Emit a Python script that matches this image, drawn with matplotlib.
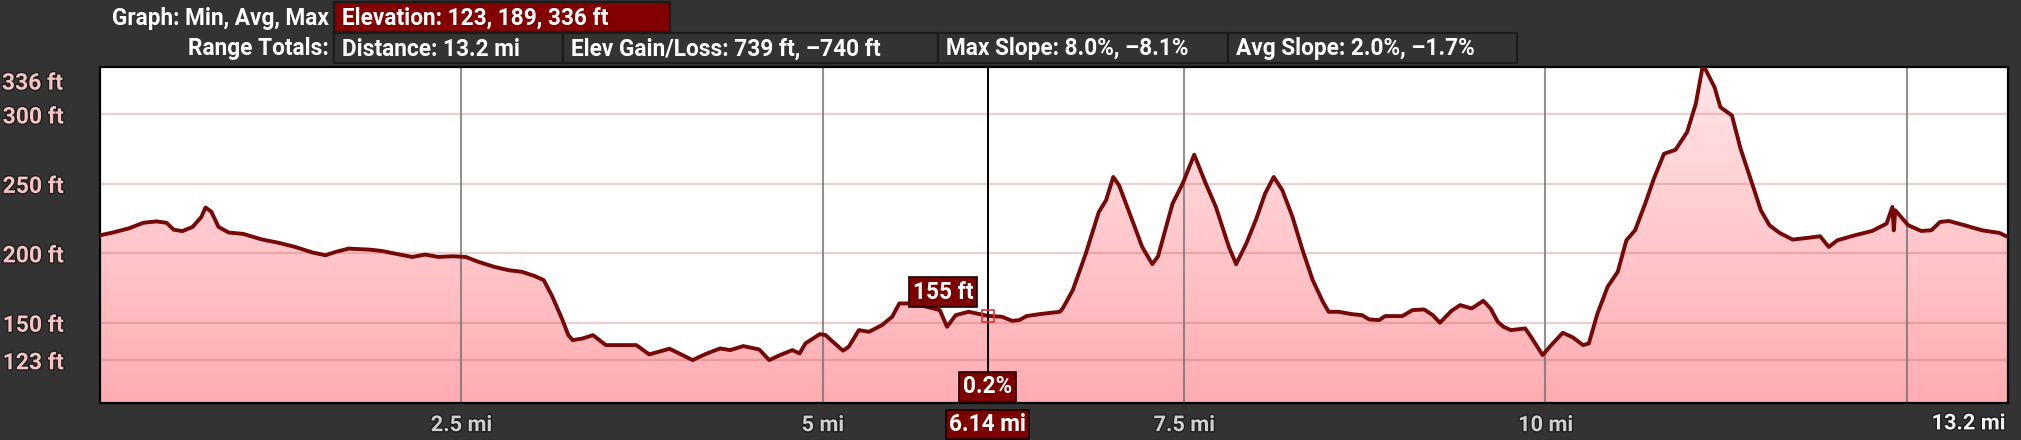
#!/usr/bin/env python3
"""Elevation profile panel with header stats, cursor readout and gradient fill."""

import numpy as np
import matplotlib
matplotlib.use("Agg")
import matplotlib.pyplot as plt
import matplotlib.patheffects as pe
from matplotlib.colors import LinearSegmentedColormap
from matplotlib.patches import Rectangle

W, H = 2021, 440

# Data
DIST_MI = [
    0.00, 0.09, 0.20, 0.30, 0.39, 0.46, 0.51, 0.57, 0.64, 0.70, 0.73, 0.77,
    0.82, 0.89, 0.99, 1.12, 1.24, 1.35, 1.47, 1.56, 1.63, 1.72, 1.86, 1.95,
    2.04, 2.16, 2.25, 2.34, 2.44, 2.53, 2.62, 2.73, 2.83, 2.92, 3.01, 3.07,
    3.13, 3.20, 3.24, 3.27, 3.34, 3.41, 3.50, 3.71, 3.80, 3.94, 4.03, 4.10,
    4.19, 4.29, 4.36, 4.45, 4.56, 4.63, 4.70, 4.79, 4.84, 4.88, 4.98, 5.02,
    5.07, 5.14, 5.18, 5.25, 5.32, 5.41, 5.48, 5.53, 5.60, 5.70, 5.81, 5.86,
    5.92, 6.01, 6.14, 6.24, 6.31, 6.36, 6.41, 6.50, 6.64, 6.66, 6.73, 6.82,
    6.91, 6.96, 7.01, 7.05, 7.15, 7.21, 7.28, 7.32, 7.42, 7.49, 7.57, 7.65,
    7.72, 7.81, 7.86, 7.93, 8.00, 8.06, 8.12, 8.18, 8.25, 8.32, 8.39, 8.46,
    8.50, 8.57, 8.66, 8.73, 8.78, 8.85, 8.89, 9.01, 9.08, 9.16, 9.22, 9.27,
    9.35, 9.41, 9.49, 9.57, 9.62, 9.67, 9.71, 9.76, 9.86, 9.90, 9.98, 10.04,
    10.12, 10.19, 10.26, 10.30, 10.36, 10.43, 10.50, 10.56, 10.62, 10.69,
    10.75, 10.82, 10.90, 10.98, 11.04, 11.09, 11.17, 11.21, 11.29, 11.35,
    11.43, 11.49, 11.55, 11.62, 11.71, 11.81, 11.90, 11.96, 12.02, 12.14,
    12.26, 12.36, 12.40, 12.41, 12.42, 12.51, 12.60, 12.67, 12.73, 12.79,
    12.90, 13.02, 13.14, 13.20,
]
ELEV_FT = [
    213, 215, 218, 222, 223, 222, 217, 216, 219, 226, 233, 230,
    219, 215, 214, 210, 207.5, 204.6, 200.6, 198.6, 201, 203.4, 202.7, 201.7,
    199.8, 197.4, 199.1, 197.4, 197.9, 197.4, 193.8, 190.2, 187.8, 186.7, 183.5, 180.7,
    168.7, 151.9, 141.1, 137.5, 138.7, 141.1, 133.9, 133.9, 127.2, 131.3, 126.7, 123.1,
    127.5, 131.5, 130.3, 133.2, 130.8, 123.1, 126.5, 130.3, 127.9, 135.1, 141.8, 141.1,
    136.3, 129.9, 132.7, 144.7, 143.5, 148.3, 154.3, 163.9, 163.9, 162, 159.1, 147.1,
    155.5, 157.9, 155, 154.3, 151.4, 151.9, 154.8, 156.2, 157.9, 160.3, 173.5, 199.8,
    229.8, 238.2, 255, 249, 221.4, 204.6, 192.2, 197.9, 235.8, 250.2, 271, 250.2,
    233.4, 204.6, 192.2, 207, 225, 243, 255, 245.4, 226.2, 202.2, 180.7, 165.1,
    157.9, 157.9, 156.2, 155.5, 152.4, 151.9, 154.8, 154.8, 159.1, 159.6, 155.5, 150,
    158.6, 162.7, 160.3, 165.8, 160.3, 150.7, 147.1, 144.7, 145.9, 139.9, 126.7, 133.9,
    142.8, 139.4, 133.9, 135.1, 156.7, 175.9, 186.7, 209.4, 216.6, 235.8,
    253.8, 271.7, 274.6, 287.3, 307.7, 336, 319.6, 305.3, 299.3, 275.3,
    250.2, 231, 220.2, 214.7, 209.9, 211.1, 212.3, 204.6, 209.4, 213,
    216.1, 221.4, 233.4, 216.6, 231, 220.2, 216.1, 216.6, 222.6, 223.3,
    220.2, 216.6, 214.7, 211.8,
]

Y_TICKS = [123, 150, 200, 250, 300]
X_TICKS = [2.5, 5, 7.5, 10, 12.5]
X_LABELS = ["2.5 mi", "5 mi", "7.5 mi", "10 mi", ""]
MAX_FT = 336
TOTAL_MI = 13.2
CURSOR_MI = 6.14
CURSOR_FT = 155
CURSOR_SLOPE = "0.2%"

ROW1_TITLE = "Graph: Min, Avg, Max"
ROW1_BOXES = ["Elevation: 123, 189, 336 ft"]
ROW2_TITLE = "Range Totals:"
ROW2_BOXES = ["Distance: 13.2 mi", "Elev Gain/Loss: 739 ft, –740 ft",
              "Max Slope: 8.0%, –8.1%", "Avg Slope: 2.0%, –1.7%"]

BG = "#333333"
DARK_RED = "#7d0000"
LINE = "#760808"
FS = 16.3

plt.rcParams["font.family"] = ["Roboto", "DejaVu Sans"]


def fx(px):
    return px / W


def fy(py):
    return 1 - py / H


fig = plt.figure(figsize=(W / 100, H / 100), dpi=100, facecolor=BG)


# ---------------------------------------------------------------- header
def header_box(x0, x1, y0, y1, text, fill):
    fig.patches.append(Rectangle((fx(x0), fy(y1)), fx(x1 - x0), (y1 - y0) / H,
                                 transform=fig.transFigure, facecolor=fill,
                                 edgecolor="#1b1b1b", linewidth=1.6))
    fig.text(fx(x0 + 8), fy((y0 + y1) / 2 + 1), text, color="white",
             fontsize=FS, fontweight="bold", va="center", ha="left")


fig.text(fx(329), fy(18), ROW1_TITLE, color="white", fontsize=FS,
         fontweight="bold", ha="right", va="center")
header_box(334, 670, 2, 32, ROW1_BOXES[0], "#820000")

fig.text(fx(329), fy(49), ROW2_TITLE, color="white", fontsize=FS,
         fontweight="bold", ha="right", va="center")
row2_edges = [334, 563, 938, 1228, 1517]
for i, label in enumerate(ROW2_BOXES):
    header_box(row2_edges[i], row2_edges[i + 1], 33, 63, label, BG)

# ---------------------------------------------------------------- plot
ax = fig.add_axes([fx(100), fy(403), fx(1908), 336 / H])
y_lo, y_hi = 92.2, 334.2

dist = np.array(DIST_MI)
elev = np.array(ELEV_FT)

poly = ax.fill_between(dist, elev, y_lo, facecolor="none", edgecolor="none")
cmap = LinearSegmentedColormap.from_list("pink", ["#ffe6e8", "#ffacb2"])
grad = np.linspace(0, 1, 256).reshape(-1, 1)
im = ax.imshow(grad, extent=[0, TOTAL_MI, y_lo, y_hi], aspect="auto",
               cmap=cmap, origin="upper", zorder=0.8)
im.set_clip_path(poly.get_paths()[0], transform=ax.transData)

ax.plot(dist, elev, color=LINE, linewidth=2.8, solid_joinstyle="round", zorder=3)

ax.set_xlim(0, TOTAL_MI)
ax.set_ylim(y_lo, y_hi)
ax.set_facecolor("white")

for y in Y_TICKS:
    ax.axhline(y, color="#b05a5a", alpha=0.28, linewidth=1.6, zorder=1.5)
for x in X_TICKS:
    ax.axvline(x, color="#6e6e6e", alpha=0.75, linewidth=1.5, zorder=1.5)

for s in ax.spines.values():
    s.set_color("black")
    s.set_linewidth(1.6)

shadow = [pe.withStroke(linewidth=2, foreground="#1e1e1e")]
ax.set_yticks(Y_TICKS)
ax.set_yticklabels([f"{v} ft" for v in Y_TICKS])
ax.tick_params(axis="y", length=0, pad=26, labelsize=16.5,
               labelcolor="#f4c4c4")
for t in ax.get_yticklabels():
    t.set_fontweight("bold")
    t.set_path_effects(shadow)
ax.text(-0.0193, 0.952, f"{MAX_FT} ft", transform=ax.transAxes, ha="right",
        va="center", fontsize=16.5, fontweight="bold", color="#f4c4c4",
        path_effects=shadow)

ax.set_xticks(X_TICKS)
ax.set_xticklabels(X_LABELS)
ax.tick_params(axis="x", length=0, pad=8, labelsize=15.7,
               labelcolor="#cfcfcf")
for t in ax.get_xticklabels():
    t.set_fontweight("bold")
    t.set_path_effects(shadow)
ax.text(0.9985, -0.028, f"{TOTAL_MI} mi", transform=ax.transAxes, ha="right",
        va="top", fontsize=15.7, fontweight="bold", color="#f2f2f2",
        path_effects=shadow)

# ---------------------------------------------------------------- cursor
ax.axvline(CURSOR_MI, color="black", linewidth=1.4, zorder=4)
ax.plot([CURSOR_MI], [CURSOR_FT], marker="s", markersize=8.5,
        markerfacecolor="none", markeredgecolor="#e03535",
        markeredgewidth=1.2, zorder=5)

box = dict(boxstyle="square,pad=0.15", facecolor=DARK_RED,
           edgecolor="#1a0000", linewidth=1.2)
ax.annotate(f"{CURSOR_FT} ft", xy=(CURSOR_MI, CURSOR_FT), xytext=(-32, 17),
            textcoords="offset points", ha="center", va="center",
            fontsize=FS, fontweight="bold", color="white", bbox=box,
            zorder=6)
ax.text(CURSOR_MI, 0.048, CURSOR_SLOPE,
        transform=ax.get_xaxis_transform(), ha="center", va="center",
        fontsize=FS, fontweight="bold", color="white", bbox=box,
        zorder=6)
ax.text(CURSOR_MI, -0.064, f"{CURSOR_MI} mi",
        transform=ax.get_xaxis_transform(), ha="center", va="center",
        fontsize=FS, fontweight="bold", color="white", bbox=box,
        zorder=6, clip_on=False)

fig.savefig("out.png", dpi=100, facecolor=BG)
